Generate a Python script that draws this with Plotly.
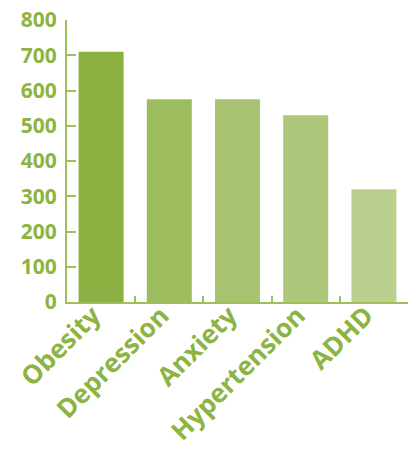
import plotly.graph_objects as go

categories = ["Obesity", "Depression", "Anxiety", "Hypertension", "ADHD"]
values = [710, 575, 575, 530, 320]
bar_colors = ["#8BB042", "#9DBC5E", "#A8C472", "#AFC77B", "#BBD08E"]
y_ticks = [0, 100, 200, 300, 400, 500, 600, 700, 800]

green = "#8BB443"
axis_green = "#9CC15A"

fig = go.Figure(
    go.Bar(
        x=categories,
        y=values,
        marker=dict(color=bar_colors, line=dict(width=0)),
        width=0.66,
    )
)

fig.update_layout(
    width=408,
    height=451,
    margin=dict(l=67, r=0, t=20, b=149),
    plot_bgcolor="white",
    paper_bgcolor="white",
    showlegend=False,
    font=dict(family="Open Sans", color=green),
)

fig.update_xaxes(
    type="category",
    tickangle=-45,
    tickfont=dict(family="Open Sans", size=26, color=green, weight="bold"),
    showline=True,
    linecolor=axis_green,
    linewidth=2,
    ticks="inside",
    tickson="boundaries",
    ticklen=6,
    tickwidth=2,
    tickcolor=axis_green,
    showgrid=False,
    range=[-0.5, 4.5],
    automargin=False,
    ticklabelstandoff=-14,
    ticklabelshift=-8,
)

fig.update_yaxes(
    range=[0, 800],
    tickvals=y_ticks,
    tickfont=dict(family="Open Sans", size=21, color=green, weight="bold"),
    showline=True,
    linecolor=axis_green,
    linewidth=2,
    ticks="inside",
    ticklen=9,
    tickwidth=2,
    tickcolor=axis_green,
    showgrid=False,
    zeroline=False,
    ticklabelstandoff=4,
    automargin=False,
)

fig.write_html("out.html")
